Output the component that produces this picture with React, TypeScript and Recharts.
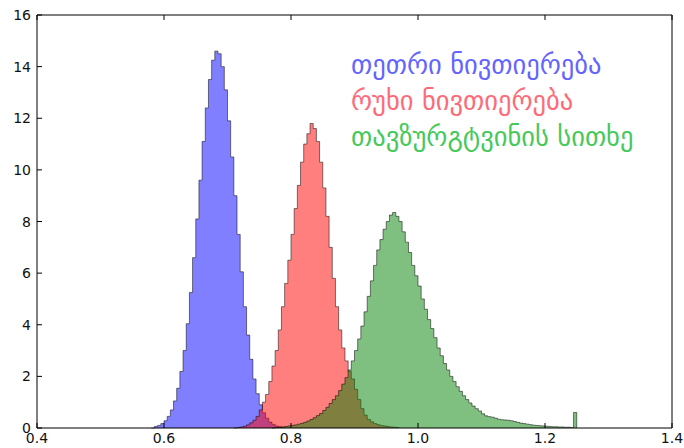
import React from "react";
import { AreaChart, Area, XAxis, YAxis } from "recharts";

// histogram bins are 0.005 wide; each series lists bin heights from its first bin edge
const binWidth = 0.005;
const gridStart = 0.58;
const gridEnd = 1.25;

const whiteStart = 0.585;
const whiteMatter = [
  0.06, 0.1, 0.17, 0.28, 0.45, 0.7, 1.05, 1.54, 2.19, 3.0, 4.04, 5.25, 6.6, 8.1, 9.6, 11.1, 12.4,
  13.5, 14.25, 14.6, 14.5, 14.0, 13.1, 11.9, 10.5, 9.0, 7.5, 6.05, 4.7, 3.6, 2.66, 1.9, 1.33, 0.9,
  0.59, 0.38, 0.23, 0.14, 0.08, 0.05, 0.03,
];

const grayStart = 0.715;
const grayMatter = [
  0.02, 0.04, 0.07, 0.12, 0.2, 0.3, 0.45, 0.7, 1.0, 1.3, 1.8, 2.4, 3.0, 3.8, 4.7, 5.6, 6.5, 7.5,
  8.5, 9.4, 10.3, 11.0, 11.4, 11.8, 11.6, 11.1, 10.3, 9.3, 8.2, 7.0, 5.8, 4.7, 3.8, 3.1, 2.6, 2.2,
  1.9, 1.5, 1.1, 0.75, 0.5, 0.33, 0.24, 0.17, 0.13, 0.1, 0.08, 0.06, 0.04, 0.03, 0.02,
];

const csfStart = 0.775;
const csf = [
  0.02, 0.03, 0.04, 0.06, 0.08, 0.1, 0.12, 0.15, 0.18, 0.22, 0.27, 0.33, 0.4, 0.48, 0.56, 0.68,
  0.8, 0.95, 1.1, 1.25, 1.45, 1.7, 1.95, 2.25, 2.6, 3.0, 3.45, 3.95, 4.5, 5.1, 5.7, 6.3, 6.9, 7.3,
  7.7, 8.0, 8.25, 8.35, 8.2, 8.0, 7.6, 7.2, 6.8, 6.3, 5.9, 5.5, 5.0, 4.6, 4.2, 3.85, 3.5, 3.1, 2.8,
  2.5, 2.25, 2.0, 1.8, 1.6, 1.42, 1.25, 1.1, 0.97, 0.85, 0.75, 0.66, 0.55, 0.47, 0.44, 0.42, 0.38,
  0.34, 0.32, 0.31, 0.3, 0.28, 0.25, 0.22, 0.19, 0.17, 0.15, 0.13, 0.11, 0.1, 0.09, 0.08, 0.07,
  0.06, 0.05, 0.05, 0.04, 0.04, 0.03, 0.03, 0.02, 0.6,
];

const xTicks = [0.4, 0.6, 0.8, 1.0, 1.2, 1.4];
const yTicks = [0, 2, 4, 6, 8, 10, 12, 14, 16];

const labels = [
  { text: "თეთრი ნივთიერება", color: "#6464ff" },
  { text: "რუხი ნივთიერება", color: "#ff6a78" },
  { text: "თავზურგტვინის სითხე", color: "#46c95a" },
];

const pick = (x: number, start: number, values: number[]) => {
  const idx = Math.round((x - start) / binWidth);
  if (idx >= 0 && idx < values.length) return values[idx];
  if (idx === values.length || idx === -1) return 0;
  return null;
};

const nBins = Math.round((gridEnd - gridStart) / binWidth);
const data = Array.from({ length: nBins + 1 }, (_, i) => {
  const x = +(gridStart + i * binWidth).toFixed(3);
  return {
    x,
    white: pick(x, whiteStart, whiteMatter),
    gray: pick(x, grayStart, grayMatter),
    csf: pick(x, csfStart, csf),
  };
});

const font = "'DejaVu Sans', sans-serif";
const TICK = 5;

const BottomTick = (props: any) => {
  const { x, y, payload } = props;
  return (
    <g>
      <line x1={x} y1={y} x2={x} y2={y - TICK} stroke="#000" />
      <text x={x} y={y + 15} textAnchor="middle" fontFamily={font} fontSize={14} fill="#111">
        {Number(payload.value).toFixed(1)}
      </text>
    </g>
  );
};

const TopTick = (props: any) => {
  const { x, y } = props;
  return <line x1={x} y1={y} x2={x} y2={y + TICK} stroke="#000" />;
};

const LeftTick = (props: any) => {
  const { x, y, payload } = props;
  return (
    <g>
      <line x1={x} y1={y} x2={x + TICK} y2={y} stroke="#000" />
      <text x={x - 6} y={y + 5} textAnchor="end" fontFamily={font} fontSize={14} fill="#111">
        {payload.value}
      </text>
    </g>
  );
};

const RightTick = (props: any) => {
  const { x, y } = props;
  return <line x1={x} y1={y} x2={x - TICK} y2={y} stroke="#000" />;
};

const axisCommon = {
  tickSize: 0,
  tickMargin: 0,
  tickLine: false,
  interval: 0 as const,
  axisLine: { stroke: "#000" },
};

export default function App() {
  return (
    <div style={{ position: "absolute", left: 0, top: 0, width: 684, height: 448, background: "#fff" }}>
      <AreaChart width={684} height={448} data={data} margin={{ top: 14, right: 11, bottom: 0, left: 0 }}>
        <XAxis
          dataKey="x"
          type="number"
          domain={[0.4, 1.4]}
          ticks={xTicks}
          height={20}
          tick={<BottomTick />}
          {...axisCommon}
        />
        <XAxis
          xAxisId="top"
          orientation="top"
          dataKey="x"
          type="number"
          domain={[0.4, 1.4]}
          ticks={xTicks}
          height={1}
          tick={<TopTick />}
          {...axisCommon}
        />
        <YAxis
          type="number"
          domain={[0, 16]}
          ticks={yTicks}
          width={37}
          tick={<LeftTick />}
          {...axisCommon}
        />
        <YAxis
          yAxisId="right"
          orientation="right"
          type="number"
          domain={[0, 16]}
          ticks={yTicks}
          width={1}
          tick={<RightTick />}
          {...axisCommon}
        />
        <Area
          type="stepAfter"
          dataKey="white"
          fill="#0000ff"
          fillOpacity={0.5}
          stroke="#000"
          strokeOpacity={0.5}
          strokeWidth={1}
          dot={false}
          activeDot={false}
          isAnimationActive={false}
        />
        <Area
          type="stepAfter"
          dataKey="gray"
          fill="#ff0000"
          fillOpacity={0.5}
          stroke="#000"
          strokeOpacity={0.5}
          strokeWidth={1}
          dot={false}
          activeDot={false}
          isAnimationActive={false}
        />
        <Area
          type="stepAfter"
          dataKey="csf"
          fill="#008000"
          fillOpacity={0.5}
          stroke="#000"
          strokeOpacity={0.5}
          strokeWidth={1}
          dot={false}
          activeDot={false}
          isAnimationActive={false}
        />
      </AreaChart>
      {labels.map((l, i) => (
        <div
          key={l.text}
          style={{
            position: "absolute",
            left: 351,
            top: 48 + i * 36,
            fontFamily: font,
            fontSize: 26.5,
            lineHeight: "34px",
            color: l.color,
            whiteSpace: "nowrap",
          }}
        >
          {l.text}
        </div>
      ))}
    </div>
  );
}
